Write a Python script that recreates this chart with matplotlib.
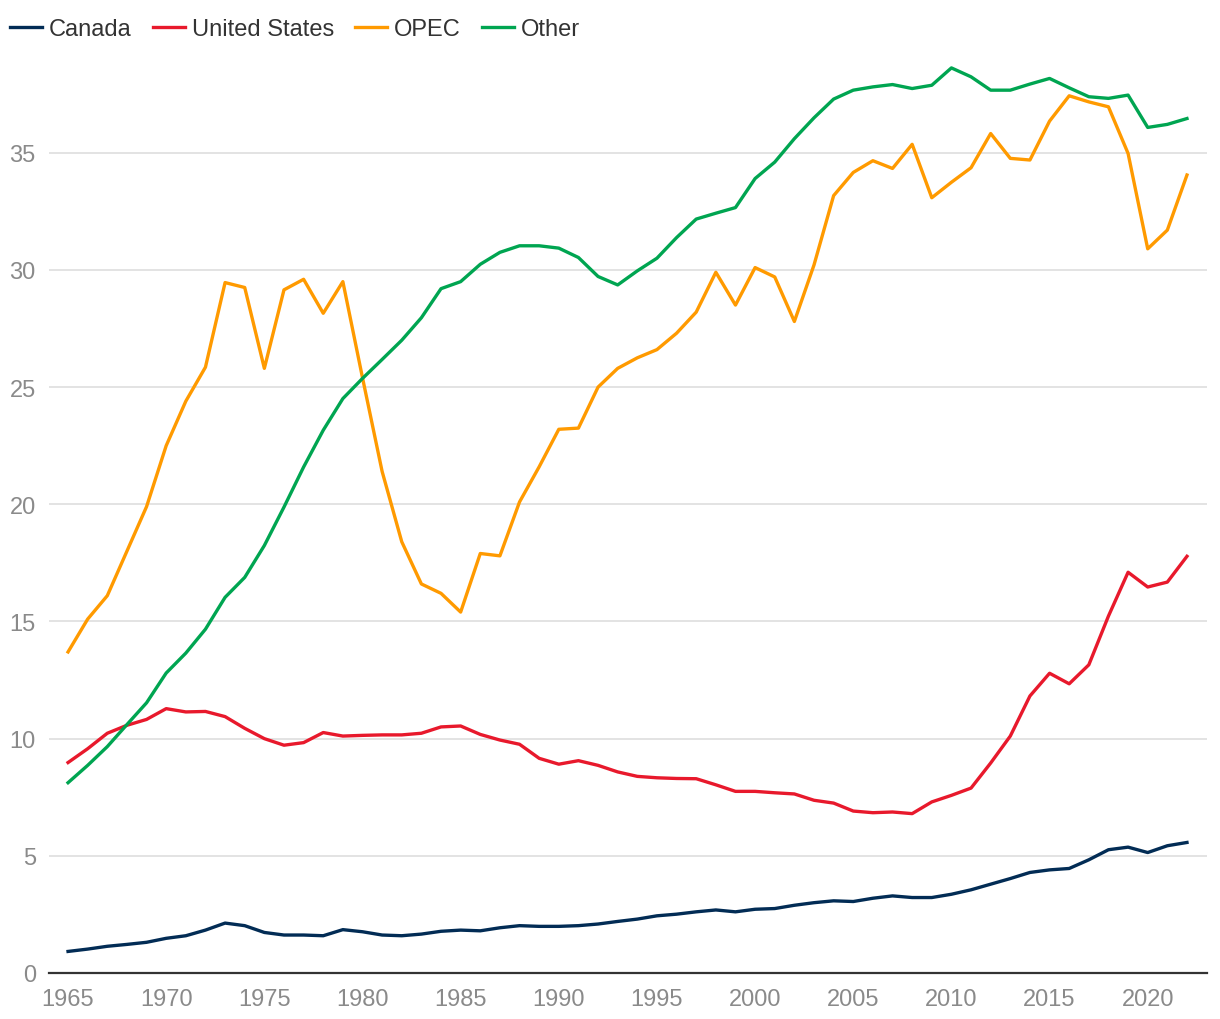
import matplotlib
matplotlib.use("Agg")
import matplotlib.pyplot as plt

plt.rcParams["font.family"] = ["Liberation Sans", "DejaVu Sans"]

years = list(range(1965, 2023))

canada = [0.92, 1.02, 1.14, 1.22, 1.31, 1.48, 1.59, 1.83, 2.13, 2.02,
          1.73, 1.62, 1.62, 1.59, 1.85, 1.76, 1.62, 1.59, 1.66, 1.78,
          1.83, 1.80, 1.93, 2.02, 1.99, 1.99, 2.02, 2.09, 2.20, 2.30,
          2.44, 2.51, 2.61, 2.69, 2.61, 2.72, 2.75, 2.89, 3.00, 3.08,
          3.05, 3.19, 3.29, 3.22, 3.22, 3.36, 3.55, 3.79, 4.03, 4.29,
          4.40, 4.46, 4.83, 5.26, 5.37, 5.14, 5.43, 5.57]

united_states = [8.98, 9.57, 10.23, 10.57, 10.82, 11.28, 11.14, 11.16, 10.94, 10.44,
                 10.00, 9.72, 9.83, 10.26, 10.11, 10.14, 10.16, 10.16, 10.23, 10.50,
                 10.54, 10.18, 9.94, 9.76, 9.16, 8.91, 9.06, 8.86, 8.58, 8.39,
                 8.33, 8.30, 8.29, 8.03, 7.75, 7.75, 7.69, 7.64, 7.37, 7.25,
                 6.91, 6.84, 6.87, 6.80, 7.30, 7.58, 7.89, 8.96, 10.11, 11.82,
                 12.79, 12.34, 13.15, 15.23, 17.10, 16.47, 16.68, 17.78]

opec = [13.7, 15.1, 16.1, 18.0, 19.9, 22.5, 24.4, 25.85, 29.46, 29.25,
        25.8, 29.15, 29.6, 28.15, 29.5, 25.4, 21.4, 18.4, 16.6, 16.2,
        15.4, 17.9, 17.8, 20.1, 21.6, 23.2, 23.25, 25.0, 25.8, 26.25,
        26.6, 27.3, 28.2, 29.9, 28.5, 30.1, 29.7, 27.8, 30.21, 33.17,
        34.16, 34.66, 34.33, 35.36, 33.08, 33.74, 34.36, 35.82, 34.76, 34.69,
        36.35, 37.43, 37.17, 36.96, 34.97, 30.9, 31.7, 34.05]

other = [8.12, 8.86, 9.66, 10.6, 11.53, 12.8, 13.65, 14.67, 16.03, 16.88,
         18.24, 19.88, 21.59, 23.16, 24.51, 25.37, 26.18, 27.0, 27.96, 29.2,
         29.5, 30.24, 30.75, 31.03, 31.03, 30.93, 30.53, 29.72, 29.36, 29.96,
         30.5, 31.38, 32.17, 32.42, 32.66, 33.9, 34.6, 35.6, 36.49, 37.29,
         37.67, 37.81, 37.91, 37.74, 37.88, 38.62, 38.24, 37.67, 37.67, 37.93,
         38.17, 37.77, 37.39, 37.32, 37.46, 36.08, 36.21, 36.46]

series = [
    ("Canada", canada, "#022c55"),
    ("United States", united_states, "#e8192c"),
    ("OPEC", opec, "#ff9a00"),
    ("Other", other, "#00a551"),
]

fig = plt.figure(figsize=(12.2, 10.2), dpi=100)
ax = fig.add_axes([49 / 1220, 46 / 1020, (1207 - 49) / 1220, (974 - 60) / 1020])

for name, vals, color in series:
    ax.plot(years, vals, color=color, lw=2.4, label=name, solid_joinstyle="round")

ax.set_xlim(1964.03, 2023.02)
ax.set_ylim(0, 39)
ax.set_xticks(range(1965, 2021, 5))
ax.set_yticks(range(0, 36, 5))
ax.grid(axis="y", color="#e3e3e3", lw=1.4)
ax.set_axisbelow(True)
for side in ["top", "right", "left"]:
    ax.spines[side].set_visible(False)
ax.spines["bottom"].set_color("#333333")
ax.spines["bottom"].set_linewidth(1.6)
ax.spines["bottom"].set_zorder(5)
ax.tick_params(axis="both", length=0, labelsize=17, labelcolor="#8a8a8a")
ax.tick_params(axis="y", pad=9.5)
ax.tick_params(axis="x", pad=11)

fig.legend(loc="center left", bbox_to_anchor=(10 / 1220, 1 - 30 / 1020),
           ncol=4, frameon=False, fontsize=17, handlelength=1.35,
           handletextpad=0.3, columnspacing=0.9, borderpad=0, borderaxespad=0,
           labelcolor="#333333")

fig.savefig("out.png", dpi=100)
